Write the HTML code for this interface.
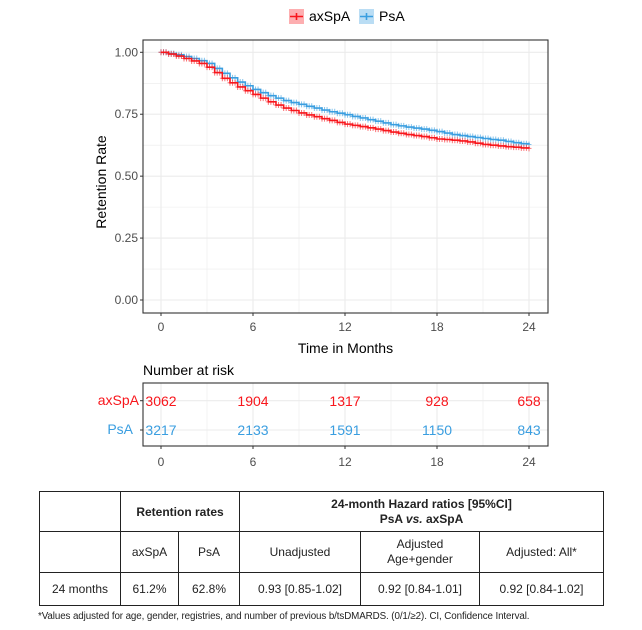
<!DOCTYPE html>
<html><head><meta charset="utf-8"><style>
body{margin:0;background:#fff;width:642px;height:630px;overflow:hidden;font-family:"Liberation Sans",Arial,sans-serif}
svg text{font-family:"Liberation Sans",Arial,sans-serif}
table{position:absolute;left:39px;top:491px;border-collapse:collapse;font-family:"Liberation Sans",sans-serif;font-size:12px;color:#222}
td{border:1.3px solid #222;text-align:center;padding:0}
.fn{position:absolute;left:38px;top:611px;font-size:9.8px;color:#222;font-family:"Liberation Sans",sans-serif;letter-spacing:-0.1px}
</style></head><body>
<svg id="chart" width="642" height="480" style="position:absolute;left:0;top:0"></svg>
<table>
<tr style="height:40px"><td style="width:80px"></td><td colspan="2" style="font-weight:bold">Retention rates</td><td colspan="3" style="font-weight:bold;line-height:15px">24-month Hazard ratios [95%CI]<br>PsA <i>vs.</i> axSpA</td></tr>
<tr style="height:41px"><td></td><td style="width:57px">axSpA</td><td style="width:60px">PsA</td><td style="width:120px">Unadjusted</td><td style="width:118px;line-height:15px">Adjusted<br>Age+gender</td><td style="width:123px">Adjusted: All*</td></tr>
<tr style="height:33px"><td>24 months</td><td>61.2%</td><td>62.8%</td><td>0.93 [0.85-1.02]</td><td>0.92 [0.84-1.01]</td><td>0.92 [0.84-1.02]</td></tr>
</table>
<div class="fn">*Values adjusted for age, gender, registries, and number of previous b/tsDMARDS. (0/1/≥2). CI, Confidence Interval.</div>
<script>
const months=[0,0.5,1,1.5,2,2.5,3,3.5,4,4.5,5,5.5,6,6.5,7,7.5,8,8.5,9,9.5,10,10.5,11,11.5,12,12.5,13,13.5,14,14.5,15,15.5,16,16.5,17,17.5,18,18.5,19,19.5,20,20.5,21,21.5,22,22.5,23,23.5,24];
const axspa=[1,0.993,0.985,0.975,0.965,0.955,0.94,0.918,0.895,0.877,0.86,0.845,0.83,0.815,0.80,0.787,0.775,0.765,0.755,0.747,0.74,0.732,0.725,0.717,0.71,0.705,0.70,0.695,0.69,0.684,0.678,0.673,0.668,0.664,0.66,0.655,0.65,0.648,0.645,0.642,0.638,0.633,0.628,0.625,0.622,0.619,0.617,0.614,0.612];
const psa=[1,0.995,0.99,0.983,0.975,0.966,0.955,0.935,0.915,0.897,0.88,0.865,0.85,0.837,0.825,0.815,0.805,0.797,0.79,0.782,0.775,0.767,0.76,0.754,0.748,0.741,0.735,0.728,0.722,0.715,0.708,0.703,0.698,0.694,0.69,0.685,0.68,0.674,0.668,0.664,0.66,0.656,0.652,0.648,0.645,0.64,0.635,0.631,0.628];
const riskTimes=[0,6,12,18,24];
const riskAx=[3062,1904,1317,928,658];
const riskPs=[3217,2133,1591,1150,843];
const xTicks=[0,6,12,18,24];
const yTicks=[0,0.25,0.5,0.75,1];
const yLabels=["0.00","0.25","0.50","0.75","1.00"];
const RED="#f8161c",BLUE="#3a9ee0";
const svg=document.getElementById('chart');const NS="http://www.w3.org/2000/svg";
function mk(t,a,txt){const e=document.createElementNS(NS,t);for(const k in a)e.setAttribute(k,a[k]);if(txt!==undefined)e.textContent=txt;svg.appendChild(e);return e;}
const X=v=>161+v*(529-161)/24;
const Y=v=>300-v*(300-52.3);
let p=mk('rect',{x:143,y:40,width:405,height:273,fill:'#fff',stroke:'none'});

for(let v=0;v<=24;v+=3){let g=mk('line',{x1:X(v),x2:X(v),y1:40,y2:313,stroke:'#ebebeb','stroke-width':v%6?0.6:1.1});}
for(let v=0;v<=1.001;v+=0.125){let g=mk('line',{x1:143,x2:548,y1:Y(v),y2:Y(v),stroke:'#ebebeb','stroke-width':(Math.round(v*8)%2)?0.6:1.1});}
function curve(vals,color,name){
  let d=`M${X(months[0])},${Y(vals[0])}`;
  for(let i=1;i<months.length;i++){d+=`H${X(months[i])}V${Y(vals[i])}`;}
  let c=mk('path',{d:d,fill:'none',stroke:color,'stroke-width':1.6});
  
  for(let i=0;i<months.length;i++){
    const segs=i<months.length-1?[0,0.33,0.66]:[0];
    for(const f of segs){
      const x=X(months[i]+f*(i<months.length-1?months[i+1]-months[i]:0)),y=Y(vals[i]);
      let m=mk('path',{d:`M${x-2.5},${y}H${x+2.5}M${x},${y-3}V${y+3}`,stroke:color,'stroke-width':1,opacity:0.6});
      
    }
  }
}
curve(psa,BLUE,'psa');curve(axspa,RED,'axspa');
let b=mk('rect',{x:143,y:40,width:405,height:273,fill:'none',stroke:'#333','stroke-width':1.1});

xTicks.forEach(v=>{mk('line',{x1:X(v),x2:X(v),y1:313,y2:316,stroke:'#333'});let t=mk('text',{x:X(v),y:331,'text-anchor':'middle','font-size':12,fill:'#4d4d4d'},v);});
yTicks.forEach((v,i)=>{mk('line',{x1:140,x2:143,y1:Y(v),y2:Y(v),stroke:'#333'});let t=mk('text',{x:138,y:Y(v)+4,'text-anchor':'end','font-size':12,fill:'#4d4d4d'},yLabels[i]);});
let xt=mk('text',{x:345.5,y:353,'text-anchor':'middle','font-size':14,fill:'#000'},'Time in Months');
let yt=mk('text',{x:0,y:0,'text-anchor':'middle','font-size':14,fill:'#000',transform:'translate(106,182) rotate(-90)'},'Retention Rate');
[[RED,'axSpA',289],[BLUE,'PsA',359]].forEach(([c,n,x])=>{
  let r=mk('rect',{x:x,y:9,width:15,height:15,fill:c,opacity:0.35});
  mk('path',{d:`M${x+1},16.5H${x+14}M${x+7.5},13V20`,stroke:c,'stroke-width':1.6});
  let t=mk('text',{x:x+20,y:21,'font-size':14,fill:'#000'},n);
});
let rt=mk('text',{x:143,y:375,'font-size':14,fill:'#000'},'Number at risk');
let rp=mk('rect',{x:143,y:383,width:405,height:63,fill:'#fff',stroke:'none'});
for(let v=0;v<=24;v+=3)mk('line',{x1:X(v),x2:X(v),y1:383,y2:446,stroke:'#ebebeb','stroke-width':v%6?0.6:1.1});
[400.7,430].forEach(y=>mk('line',{x1:143,x2:548,y1:y,y2:y,stroke:'#ebebeb','stroke-width':1.1}));
riskTimes.forEach((v,i)=>{
  let a=mk('text',{x:X(v),y:406,'text-anchor':'middle','font-size':14,fill:RED},riskAx[i]);
  let q=mk('text',{x:X(v),y:435,'text-anchor':'middle','font-size':14,fill:BLUE},riskPs[i]);
});
mk('rect',{x:143,y:383,width:405,height:63,fill:'none',stroke:'#333','stroke-width':1.1});
let la=mk('text',{x:139,y:405,'text-anchor':'end','font-size':14,fill:RED},'axSpA');
let lp=mk('text',{x:133,y:434,'text-anchor':'end','font-size':14,fill:BLUE},'PsA');
[400.7,430].forEach(y=>mk('line',{x1:140,x2:143,y1:y,y2:y,stroke:'#333'}));
xTicks.forEach(v=>{mk('line',{x1:X(v),x2:X(v),y1:446,y2:449,stroke:'#333'});let t=mk('text',{x:X(v),y:466,'text-anchor':'middle','font-size':12,fill:'#4d4d4d'},v);});
</script>
</body></html>
